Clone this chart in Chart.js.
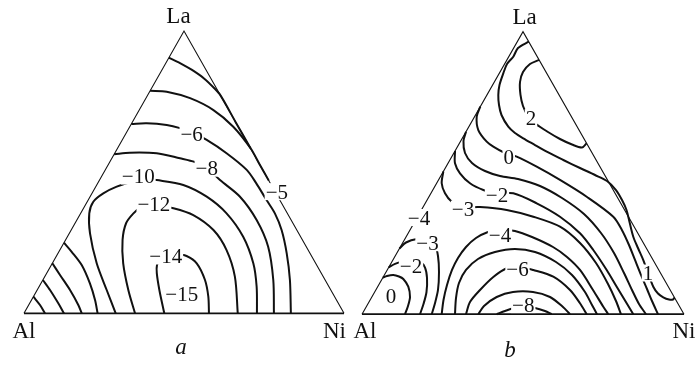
<!DOCTYPE html>
<html>
<head>
<meta charset="utf-8">
<script src="https://cdn.jsdelivr.net/npm/chart.js@4.4.1/dist/chart.umd.min.js"></script>
<style>
  html, body { margin: 0; padding: 0; background: #fff; }
  #wrap { position: relative; width: 697px; height: 374px; }
  #wrap canvas { position: absolute; left: 0; top: 0; }
</style>
</head>
<body>
<div id="wrap">
  <canvas id="panelA" width="697" height="374"></canvas>
  <canvas id="panelB" width="697" height="374"></canvas>
</div>
<script>
// Ternary Al–Ni–La diagrams. Plot coordinates: x = position along the Al–Ni side (%),
// y = La content (%), so Al = (0,0), Ni = (100,0), La = (50,100).
const cornerNames = ['Al', 'Ni', 'La'];
const panelNames = ['a', 'b'];
const triangleX = [0, 100, 50];
const triangleY = [0, 0, 100];

// ---- panel a: isolines ----
const aEdge1 = [[45.27,90.54],[48.75,88.66],[52.5,86.2],[56.25,83.2],[59.4,79.8],[61.45,77.1],[66.1,67.8],[70.8,58.45]];
const aMinus5 = [[39.4,78.85],[44.6,78.5],[51.9,76.2],[59.2,72.0],[65.4,66.1],[70.8,58.45],[73.65,52.7],[76.5,47.0]];
const aMinus6 = [[33.53,67.06],[38.34,67.3],[44.6,66.7],[48.75,65.6],[52.8,63.9],[57.1,61.4],[63.3,56.7],[69.6,50.8],[72.5,46.2],[75.8,40.1],[78.4,35.4],[80.5,29.5],[82.1,21.25],[83.1,11.8],[83.4,0]];
const aMinus8 = [[28.16,56.32],[33.1,56.9],[41.47,56.68],[48.75,54.9],[53.4,53.6],[56.9,51.8],[61.25,47.2],[67.5,41.3],[72.7,33.05],[76.3,23.6],[77.9,11.8],[78.1,0]];
const aMinus10 = [[28.66,0],[25.84,8.25],[22.72,17.71],[20.63,28.34],[20.4,35.42],[21.66,39.53],[24.78,42.5],[28.97,44.85],[33.66,46.6],[37.8,47.6],[41.47,47.2],[49.78,45.45],[57.1,41.3],[63.3,35.4],[68.5,27.1],[71.66,17.7],[72.7,9.4],[72.8,0]];
const aMinus12 = [[34.69,0],[32.6,8.25],[31.0,17.7],[30.8,26.0],[31.9,31.9],[34.2,35.4],[36.25,37.2],[40.9,38.4],[46.7,37.2],[52.9,34.8],[59.2,29.5],[63.3,22.4],[65.9,13.0],[66.8,0]];
const aMinus14 = [[43.84,0],[42.3,8.25],[41.5,14.2],[41.56,17.1],[42.5,19.1],[44.4,20.65],[47.5,21.0],[50.8,20.3],[53.97,17.7],[56.56,11.8],[57.6,5.9],[57.8,0]];
const aNearAl1 = [[2.94,5.88],[5.0,2.94],[6.56,0]];
const aNearAl2 = [[5.9,11.8],[8.13,8.25],[10.72,3.54],[12.5,0]];
const aNearAl3 = [[8.86,17.71],[11.25,13.57],[14.38,8.25],[16.97,2.94],[18.03,0]];
const aNearAl4 = [[12.5,25.0],[14.9,21.8],[18.03,17.1],[20.6,10.6],[22.2,4.7],[23.0,0]];

const aLabelText = ['\u22125', '\u22126', '\u22128', '\u221210', '\u221212', '\u221214', '\u221215'];
const aLabelX = [79.0, 52.4, 57.1, 35.7, 40.6, 44.3, 49.3];
const aLabelY = [43.1, 63.5, 51.4, 48.6, 38.7, 20.3, 6.84];

// ---- panel b: isolines ----
const bPlus2 = [[55.0,90.0],[52.17,88.57],[50.0,85.73],[49.07,82.19],[49.22,77.6],[50.0,73.7],[51.55,70.15],[54.04,67.33],[57.76,64.5],[61.49,62.02],[65.22,60.07],[68.32,59.01],[69.75,60.5]];
const bPlus1 = [[51.77,96.46],[48.45,94.23],[46.98,91.15],[45.03,88.55],[43.88,85.27],[42.7,81.13],[42.33,77.59],[42.55,74.05],[43.32,70.51],[45.43,66.37],[47.51,64.14],[50.09,62.27],[53.73,59.89],[57.36,57.52],[62.52,54.58],[67.7,51.75],[72.36,49.27],[76.09,47.15],[78.88,43.96],[80.75,40.42],[82.14,36.88],[83.08,32.62],[84.25,27.43],[85.71,23.43],[87.36,19.18],[88.82,14.58],[90.46,9.73],[91.92,7.33],[93.56,5.98],[95.34,5.2],[96.58,5.2],[97.05,5.9]];
const bZero = [[36.73,73.45],[35.62,69.91],[36.12,65.2],[38.73,61.06],[40.78,59.29],[43.79,57.42],[48.04,55.75],[54.25,52.21],[61.49,47.54],[69.78,41.59],[78.04,34.51],[80.75,29.73],[82.92,24.49],[84.78,19.19],[86.65,13.88],[88.51,8.92],[90.06,4.67],[91.93,0]];
const bMinus1 = [[32.3,64.6],[31.52,61.31],[31.99,57.06],[34.16,53.52],[38.2,50.69],[42.86,48.92],[48.45,47.86],[55.28,45.38],[62.11,41.13],[68.94,35.47],[74.22,28.74],[78.26,21.66],[81.37,14.58],[83.85,8.57],[86.02,3.61],[88.2,0]];
const bMinus2 = [[28.89,57.77],[28.88,53.42],[30.43,49.88],[33.54,46.34],[37.67,43.96],[41.61,42.73],[46.99,42.8],[54.25,39.26],[61.49,34.51],[67.7,28.64],[71.83,22.73],[75.99,15.65],[79.1,9.73],[82.2,3.86],[84.25,0]];
const bMinus3 = [[25.26,50.51],[24.75,46.34],[25.78,42.8],[27.86,39.82],[31.06,37.95],[36.65,37.95],[44.94,36.88],[53.2,34.51],[61.49,30.97],[67.7,25.2],[72.67,18.12],[76.4,10.69],[78.88,4.67],[80.43,0]];
const bMinus4 = [[24.75,0],[25.31,5.03],[26.4,10.34],[27.95,15.65],[29.81,19.89],[32.3,23.79],[35.4,26.97],[39.13,29.1],[42.86,29.98],[47.51,29.45],[52.8,27.33],[59.32,23.79],[63.66,20.25],[67.7,15.65],[71.74,8.57],[74.94,2.65],[76.49,0]];
const bMinus5 = [[28.88,0],[29.19,5.73],[30.12,11.04],[32.3,15.65],[36.02,19.54],[41.3,22.02],[47.51,23.08],[53.73,22.02],[60.25,18.48],[65.22,13.88],[69.25,7.86],[71.43,3.26],[72.98,0]];
const bMinus6 = [[32.3,0],[33.54,4.32],[36.65,8.57],[40.78,13.17],[44.94,16.25],[48.45,16.88],[53.2,15.65],[59.41,13.27],[64.6,8.57],[67.7,3.86],[69.78,0]];
const bMinus7 = [[36.12,0],[37.89,2.9],[41.83,6.09],[46.89,7.86],[53.11,7.86],[58.39,6.09],[62.42,2.55],[64.6,0]];
const bMinus8 = [[41.83,0],[44.41,1.13],[46.99,2.09],[50.31,2.62],[53.73,2.19],[56.83,1.13],[58.91,0]];
const bZeroAl = [[6.46,12.92],[7.76,13.52],[9.72,13.88],[11.49,13.35],[12.83,12.46],[14.38,9.73],[14.91,6.09],[14.29,2.9],[13.35,0]];
const bMinus2Al = [[8.3,16.6],[10.25,17.8],[12.73,18.7],[15.53,19.0],[18.01,18.5],[19.57,16.5],[20.19,12.81],[20.03,7.86],[19.1,3.61],[18.01,0]];
const bMinus3Al = [[11.63,23.26],[13.66,25.38],[17.08,26.62],[20.5,26.44],[22.67,24.5],[23.6,20.6],[23.91,14.94],[23.6,8.57],[22.6,3.61],[21.65,0]];

const bLabelText = ['2', '1', '0', '\u22122', '\u22123', '\u22124', '\u22123', '\u22122', '0', '\u22124', '\u22126', '\u22128'];
const bLabelX = [52.48, 88.82, 45.57, 41.92, 31.37, 17.7, 20.34, 15.22, 9.0, 42.86, 48.29, 50.09];
const bLabelY = [69.58, 14.58, 55.82, 42.37, 37.17, 34.23, 25.3, 17.0, 6.44, 28.1, 16.0, 3.4];

const SERIF = '"Liberation Serif", "Times New Roman", serif';

function toPoints(pairs) {
  return pairs.map(p => ({ x: p[0], y: p[1] }));
}

function lineSet(pairs, width, tension) {
  return {
    data: toPoints(pairs),
    showLine: true,
    borderColor: '#111',
    borderWidth: width,
    pointRadius: 0,
    pointHoverRadius: 0,
    tension: tension,
    fill: false,
    clip: false
  };
}

function outlineSets() {
  const corner = i => [triangleX[i], triangleY[i]];
  return [
    lineSet([corner(0), corner(1)], 1.8, 0),            // Al–Ni side
    lineSet([corner(0), corner(2), corner(1)], 1.1, 0)  // Al–La and La–Ni sides
  ];
}

// Isoline values, corner names and panel letter drawn on top of the lines.
function textPlugin(id, texts, xs, ys, cornerOffsets, letter, letterOffset) {
  return {
    id: id,
    afterDatasetsDraw(chart) {
      const ctx = chart.ctx;
      const sx = chart.scales.x, sy = chart.scales.y;
      ctx.save();
      ctx.textAlign = 'center';
      ctx.textBaseline = 'alphabetic';
      ctx.font = '21px ' + SERIF;
      texts.forEach((t, i) => {
        const px = sx.getPixelForValue(xs[i]);
        const py = sy.getPixelForValue(ys[i]);
        const w = ctx.measureText(t).width;
        ctx.fillStyle = '#fff';
        ctx.fillRect(px - w / 2 - 1, py - 8.5, w + 2, 17);
        ctx.fillStyle = '#111';
        ctx.fillText(t, px, py + 7.1);
      });
      ctx.font = '23px ' + SERIF;
      cornerNames.forEach((name, i) => {
        const px = sx.getPixelForValue(triangleX[i]) + cornerOffsets[i][0];
        const py = sy.getPixelForValue(triangleY[i]) + cornerOffsets[i][1];
        ctx.fillText(name, px, py);
      });
      ctx.font = 'italic 23px ' + SERIF;
      const cx = (chart.chartArea.left + chart.chartArea.right) / 2 + letterOffset[0];
      ctx.fillText(letter, cx, letterOffset[1]);
      ctx.restore();
    }
  };
}

function makePanel(canvasId, contours, padding, plugin) {
  const datasets = outlineSets().concat(contours.map(c => lineSet(c, 2, 0.3)));
  return new Chart(document.getElementById(canvasId), {
    type: 'scatter',
    data: { datasets: datasets },
    options: {
      responsive: false,
      animation: false,
      events: [],
      layout: { padding: padding },
      scales: {
        x: { type: 'linear', min: 0, max: 100, display: false },
        y: { type: 'linear', min: 0, max: 100, display: false }
      },
      plugins: { legend: { display: false }, tooltip: { enabled: false }, title: { display: false } }
    },
    plugins: [plugin]
  });
}

makePanel('panelA',
  [aEdge1, aMinus5, aMinus6, aMinus8, aMinus10, aMinus12, aMinus14, aNearAl1, aNearAl2, aNearAl3, aNearAl4],
  { left: 24, right: 353, top: 31, bottom: 60.7 },
  textPlugin('labelsA', aLabelText, aLabelX, aLabelY,
    [[0, 25], [-9.5, 24.7], [-5.5, -7.7]], panelNames[0], [-3, 354]));

makePanel('panelB',
  [bPlus2, bPlus1, bZero, bMinus1, bMinus2, bMinus3, bMinus4, bMinus5, bMinus6, bMinus7, bMinus8, bZeroAl, bMinus2Al, bMinus3Al],
  { left: 362, right: 13, top: 31.7, bottom: 59.8 },
  textPlugin('labelsB', bLabelText, bLabelX, bLabelY,
    [[3, 24], [0, 24], [1.7, -7.7]], panelNames[1], [-13, 357]));
</script>
</body>
</html>
